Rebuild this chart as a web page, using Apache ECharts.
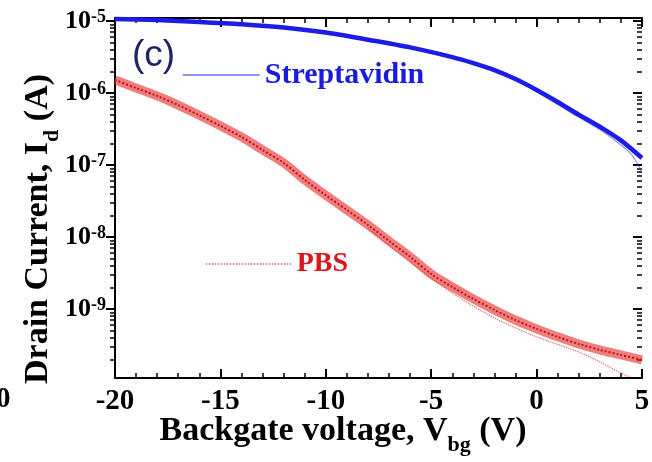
<!DOCTYPE html>
<html>
<head>
<meta charset="utf-8">
<script src="https://cdn.jsdelivr.net/npm/echarts@6/dist/echarts.min.js"></script>
<style>
  html, body { margin: 0; padding: 0; background: #fff; }
  #chart { width: 652px; height: 462px; }
</style>
</head>
<body>
<div id="chart"></div>
<script>
// backgate voltage (V) and drain current (A)
const pbsV = [-20, -19, -18, -17, -16, -15, -14, -13, -12, -11, -10, -9, -8, -7, -6, -5, -4, -3, -2, -1, 0, 1, 2, 3, 4, 5];
const pbsI = [1.52e-6, 1.17e-6, 9.1e-7, 6.8e-7, 4.9e-7, 3.5e-7, 2.45e-7, 1.62e-7, 1.07e-7, 6.2e-8, 3.8e-8, 2.37e-8, 1.47e-8,
  8.8e-9, 5.3e-9, 3.06e-9, 2.02e-9, 1.38e-9, 9.7e-10, 7.0e-10, 5.3e-10, 4.1e-10, 3.27e-10, 2.7e-10, 2.3e-10, 1.96e-10];
// one sweep that drops below the rest
const pbsLowV = [-8, -6, -4, -2, 0, 2, 3, 4, 4.5];
const pbsLowI = [1.33e-8, 4.5e-9, 1.67e-9, 7.5e-10, 4.1e-10, 2.53e-10, 1.84e-10, 1.29e-10, 1.1e-10];

const strepV = [-20, -18, -16, -14, -12, -10, -8, -6, -4, -3, -2, -1, 0, 1, 2, 3, 4, 5];
const strepI = [1.066e-5, 1.03e-5, 9.7e-6, 9.0e-6, 8.1e-6, 6.9e-6, 5.5e-6, 4.3e-6, 3.15e-6, 2.6e-6, 2.08e-6,
  1.56e-6, 1.10e-6, 7.5e-7, 5.0e-7, 3.4e-7, 2.2e-7, 1.25e-7];
const strepLowV = [0, 2, 3, 4, 4.5, 5];
const strepLowI = [1.05e-6, 4.6e-7, 3.1e-7, 1.9e-7, 1.4e-7, 7.8e-8];

const decades = [-9, -8, -7, -6, -5];

const yMin = 1.1e-10, yMax = 1.1e-5;
const lgMin = Math.log10(yMin), lgMax = Math.log10(yMax);

const serif = '"Liberation Serif", "Times New Roman", serif';
const pair = (xs, ys) => xs.map((x, i) => [x, ys[i]]);

// log minor tick positions (2..9 x 10^n), in log10 space
const minorPos = [];
for (let n = -10; n <= -6; n++) {
  for (let k = 2; k <= 9; k++) {
    const v = n + Math.log10(k);
    if (v > lgMin && v < lgMax) minorPos.push(v);
  }
}

function tickAxis(position, values, len, inside) {
  return {
    type: 'value', min: lgMin, max: lgMax, position: position,
    axisLine: { show: false, onZero: false },
    axisLabel: { show: false },
    splitLine: { show: false },
    axisTick: { show: true, inside: inside, length: len, customValues: values,
      lineStyle: { color: '#000', width: len > 6 ? 2 : 1.5 } }
  };
}

function xAxis(position, showLabel) {
  return {
    type: 'value', min: -20, max: 5, interval: 5, position: position,
    axisLine: { onZero: false, lineStyle: { color: '#000', width: 2 } },
    axisTick: { inside: true, length: 9, lineStyle: { color: '#000', width: 2 } },
    minorTick: { show: true, splitNumber: 5, length: 5, lineStyle: { color: '#000', width: 1.5 } },
    splitLine: { show: false },
    axisLabel: { show: showLabel, margin: 9, color: '#000', fontSize: 29, fontWeight: 'bold', fontFamily: serif }
  };
}

const chart = echarts.init(document.getElementById('chart'));
chart.setOption({
  animation: false,
  backgroundColor: '#fff',
  grid: { left: 115, right: 10, top: 18, bottom: 84, containLabel: false, outerBoundsMode: 'none' },
  xAxis: [xAxis('bottom', true), xAxis('top', false)],
  yAxis: [
    {
      type: 'log', min: yMin, max: yMax, position: 'left',
      axisLine: { show: true, onZero: false, lineStyle: { color: '#000', width: 2 } },
      axisTick: { show: false },
      splitLine: { show: false },
      axisLabel: {
        showMinLabel: false, showMaxLabel: false, margin: 9,
        formatter: v => '{b|10}{s|' + Math.round(Math.log10(v)) + '}',
        rich: {
          b: { fontSize: 26, fontWeight: 'bold', fontFamily: serif, color: '#000', lineHeight: 26 },
          s: { fontSize: 18, fontWeight: 'bold', fontFamily: serif, color: '#000', verticalAlign: 'top', lineHeight: 16 }
        }
      }
    },
    tickAxis('left', minorPos, 5, false),
    tickAxis('left', decades, 9, false),
    tickAxis('right', minorPos, 5, true),
    tickAxis('right', decades, 9, true)
  ],
  legend: [
    {
      data: ['Streptavidin'], left: 182, top: 60, padding: 0, selectedMode: false,
      itemWidth: 77, itemHeight: 14,
      itemStyle: { opacity: 0 },
      lineStyle: { width: 1.5, color: '#7070f0' },
      textStyle: { color: '#1a1ae0', fontSize: 30, fontWeight: 'bold', fontFamily: serif }
    },
    {
      data: ['PBS'], left: 205, top: 250, padding: 0, selectedMode: false,
      itemWidth: 86, itemHeight: 14,
      itemStyle: { opacity: 0 },
      lineStyle: { width: 1.5, color: '#e86060', type: 'dotted' },
      textStyle: { color: '#e0141c', fontSize: 28, fontWeight: 'bold', fontFamily: serif }
    }
  ],
  graphic: [
    {
      type: 'text', x: 132, y: 56,
      style: { text: '(c)', font: '37px "Liberation Sans", Arial, sans-serif', fill: '#1c2466',
        align: 'left', verticalAlign: 'middle', textAlign: 'left', textVerticalAlign: 'middle' }
    },
    {
      type: 'text', x: 343, y: 431,
      style: {
        text: '{t|Backgate voltage, V}{s|bg}{t| (V)}', fill: '#000',
        align: 'center', verticalAlign: 'middle', textAlign: 'center', textVerticalAlign: 'middle',
        rich: {
          t: { fontSize: 34, fontWeight: 'bold', fontFamily: serif, fill: '#000', lineHeight: 50 },
          s: { fontSize: 22, fontWeight: 'bold', fontFamily: serif, fill: '#000', lineHeight: 22, verticalAlign: 'bottom' }
        }
      }
    },
    {
      type: 'text', x: 38, y: 229, rotation: Math.PI / 2,
      style: {
        text: '{t|Drain Current, I}{s|d}{t| (A)}', fill: '#000',
        align: 'center', verticalAlign: 'middle', textAlign: 'center', textVerticalAlign: 'middle',
        rich: {
          t: { fontSize: 34, fontWeight: 'bold', fontFamily: serif, fill: '#000', lineHeight: 50 },
          s: { fontSize: 22, fontWeight: 'bold', fontFamily: serif, fill: '#000', lineHeight: 22, verticalAlign: 'bottom' }
        }
      }
    },
    {
      type: 'text', x: -4, y: 400,
      style: { text: '0', font: 'bold 29px ' + serif, fill: '#000',
        align: 'left', verticalAlign: 'middle', textAlign: 'left', textVerticalAlign: 'middle' }
    }
  ],
  series: [
    {
      name: 'Streptavidin', type: 'line', symbol: 'none', smooth: 0.3, z: 4,
      data: pair(strepV, strepI),
      itemStyle: { color: '#1c1ce8' },
      lineStyle: { color: '#1c1ce8', width: 4.5 }
    },
    {
      name: 'Streptavidin', type: 'line', symbol: 'none', smooth: 0.3, z: 3,
      data: pair(strepLowV, strepLowI),
      itemStyle: { color: '#1c1ce8' },
      lineStyle: { color: 'rgba(60,60,240,0.55)', width: 1.2 }
    },
    {
      name: 'PBS', type: 'line', symbol: 'none', smooth: 0.3, z: 4,
      data: pair(pbsV, pbsI),
      itemStyle: { color: '#d81818' },
      lineStyle: { color: '#c41010', width: 2, type: 'dotted' }
    },
    {
      name: 'PBS', type: 'line', symbol: 'none', smooth: 0.3, z: 3,
      data: pair(pbsV, pbsI),
      itemStyle: { color: '#d81818' },
      lineStyle: { color: 'rgba(232,40,40,0.6)', width: 9 }
    },
    {
      name: 'PBS', type: 'line', symbol: 'none', smooth: 0.3, z: 3,
      data: pair(pbsLowV, pbsLowI),
      itemStyle: { color: '#d81818' },
      lineStyle: { color: 'rgba(225,40,40,0.75)', width: 1.2, type: 'dotted' }
    }
  ]
});
</script>
</body>
</html>
